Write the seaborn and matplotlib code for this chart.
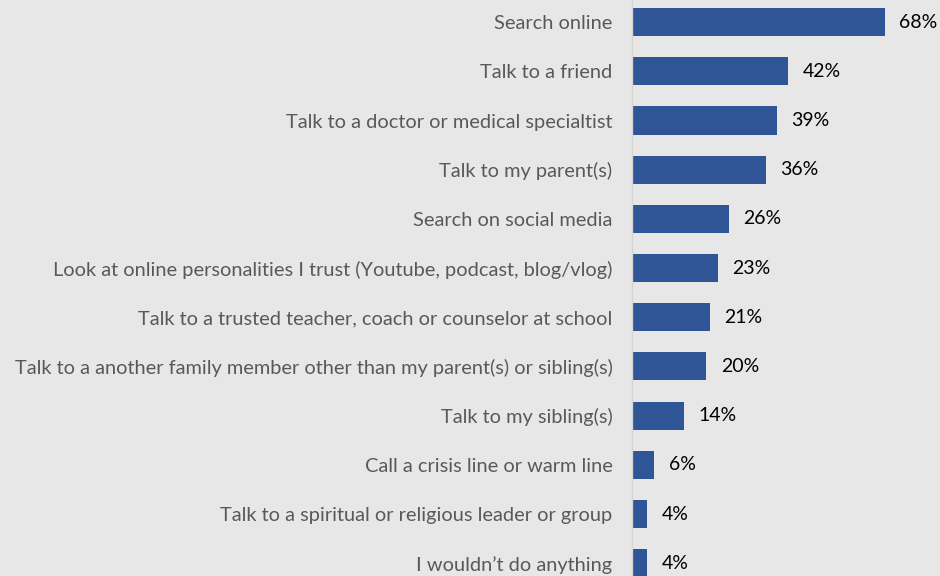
"""Horizontal bar chart: where young people would turn for help."""

import matplotlib.pyplot as plt
import pandas as pd
import seaborn as sns

categories = [
    "Search online",
    "Talk to a friend",
    "Talk to a doctor or medical specialtist",
    "Talk to my parent(s)",
    "Search on social media",
    "Look at online personalities I trust (Youtube, podcast, blog/vlog)",
    "Talk to a trusted teacher, coach or counselor at school",
    "Talk to a another family member other than my parent(s) or sibling(s)",
    "Talk to my sibling(s)",
    "Call a crisis line or warm line",
    "Talk to a spiritual or religious leader or group",
    "I wouldn\u2019t do anything",
]
percent = [68, 42, 39, 36, 26, 23, 21, 20, 14, 6, 4, 4]

BG = "#e7e7e7"
BAR = "#2f5597"

df = pd.DataFrame({"option": categories, "pct": percent})

sns.set_theme(style="white")
plt.rcParams["font.family"] = ["Lato", "DejaVu Sans"]

fig = plt.figure(figsize=(9.4, 5.76), dpi=100, facecolor=BG)
ax = fig.add_axes([632 / 940, 0, 308 / 940, 1])
ax.set_facecolor(BG)

sns.barplot(data=df, x="pct", y="option", color=BAR, width=0.57,
            saturation=1, orient="h", linewidth=0, ax=ax)

ax.set_xlim(0, 82.8)
ax.set_ylim(11.26, -0.45)
ax.set_xlabel("")
ax.set_ylabel("")
ax.set_xticks([])
ax.tick_params(axis="y", length=0, pad=14, labelsize=14.4, labelcolor="#595959")

for i, v in enumerate(percent):
    ax.text(v + 3.9, i, f"{v}%", va="center", ha="left", fontsize=14,
            color="black")

for side in ["top", "right", "bottom"]:
    ax.spines[side].set_visible(False)
ax.spines["left"].set_color("#d4d4d4")
ax.spines["left"].set_linewidth(1)

fig.savefig("out.png", dpi=100, facecolor=BG)
